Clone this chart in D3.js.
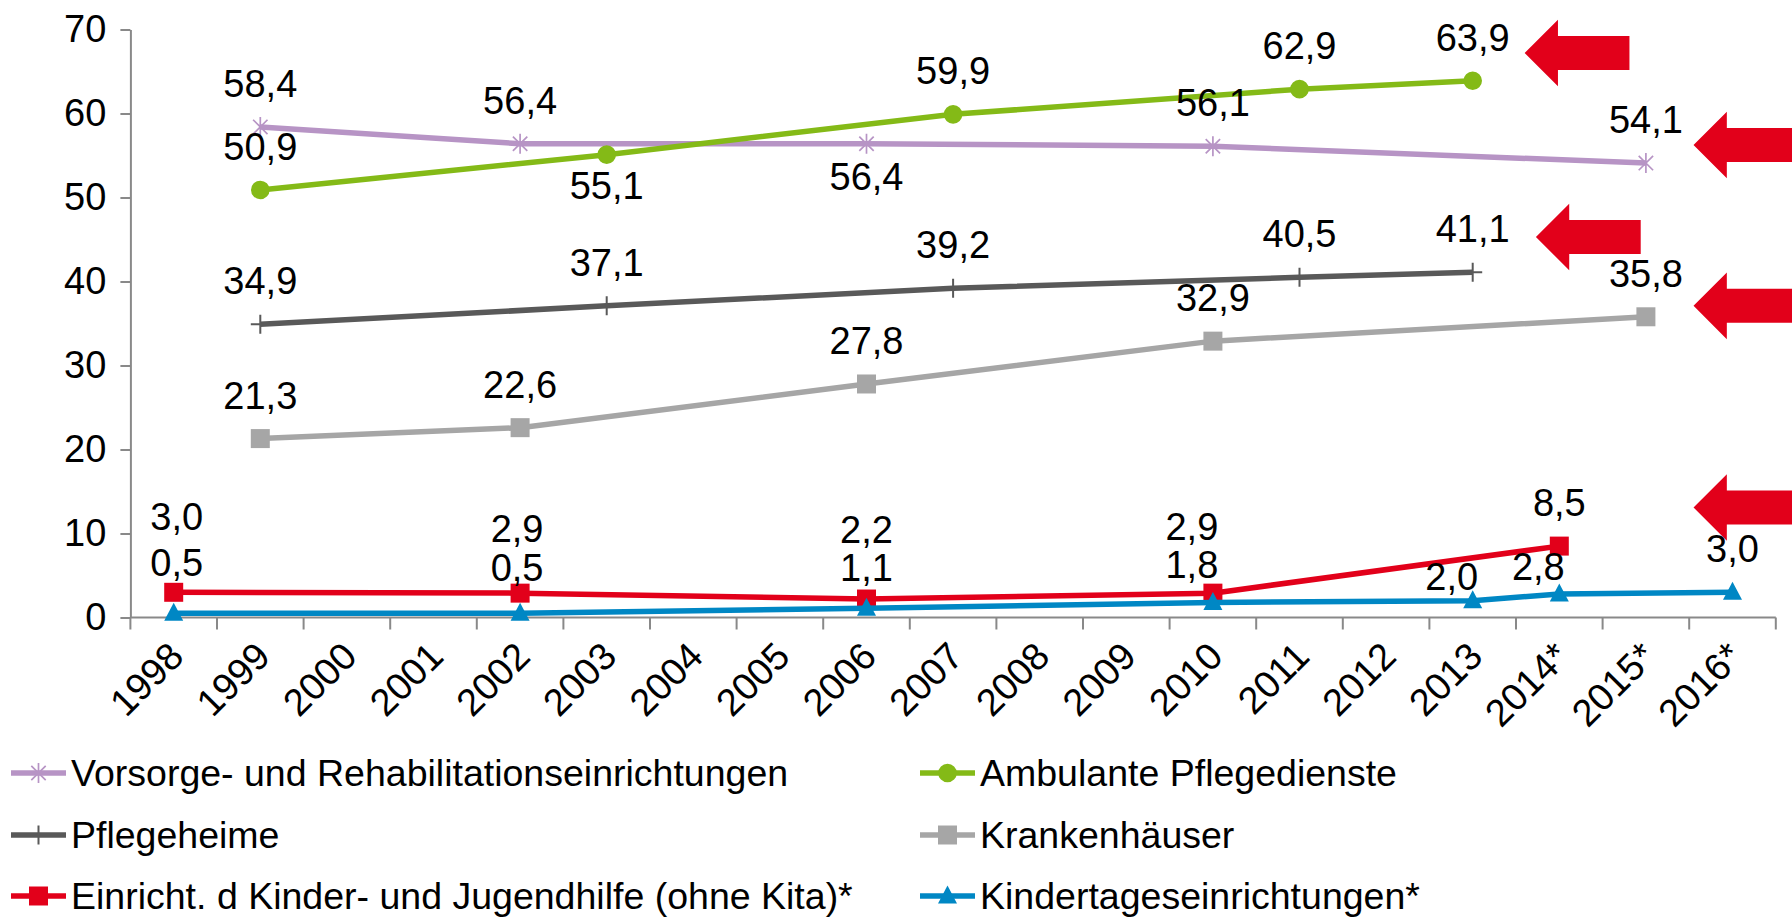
<!DOCTYPE html>
<html>
  <head>
    <meta charset="utf-8">
    <script src="https://cdn.jsdelivr.net/npm/d3@7"></script>
    <style>
      body { margin: 0; background: #fff; }
      text { font-family: "Liberation Sans", Arial, sans-serif; fill: #000; }
    </style>
  </head>
  <body>
    <div id="chart"></div>
    <script type="text/javascript">
      var width = 1792,
          height = 918;

      // categories on the x axis
      var categories = ["1998", "1999", "2000", "2001", "2002", "2003", "2004", "2005", "2006", "2007",
                        "2008", "2009", "2010", "2011", "2012", "2013", "2014*", "2015*", "2016*"];
      var yTicks = [0, 10, 20, 30, 40, 50, 60, 70];

      // series values (null = no survey that year)
      var vorsorge    = [null, 58.4, null, null, 56.4, null, null, null, 56.4, null, null, null, 56.1, null, null, null, null, 54.1, null];
      var ambulant    = [null, 50.9, null, null, null, 55.1, null, null, null, 59.9, null, null, null, 62.9, null, 63.9, null, null, null];
      var pflegeheime = [null, 34.9, null, null, null, 37.1, null, null, null, 39.2, null, null, null, 40.5, null, 41.1, null, null, null];
      var kranken     = [null, 21.3, null, null, 22.6, null, null, null, 27.8, null, null, null, 32.9, null, null, null, null, 35.8, null];
      var jugendhilfe = [3.0, null, null, null, 2.9, null, null, null, 2.2, null, null, null, 2.9, null, null, null, 8.5, null, null];
      var kitas       = [0.5, null, null, null, 0.5, null, null, null, 1.1, null, null, null, 1.8, null, null, 2.0, 2.8, null, 3.0];

      var seriesNames = ["Vorsorge- und Rehabilitationseinrichtungen", "Ambulante Pflegedienste", "Pflegeheime",
                         "Krankenhäuser", "Einricht. d Kinder- und Jugendhilfe (ohne Kita)*", "Kindertageseinrichtungen*"];

      // arrows: tip / tail in category index units, y in value units
      var arrowTip  = [15.6, 17.55, 15.73, 17.55, 17.55];
      var arrowTail = [16.81, 19.6, 16.94, 19.6, 19.6];
      var arrowY    = [67.2, 56.25, 45.3, 37.1, 13.1];

      var series = [
        { name: seriesNames[0], values: vorsorge,    color: "#b794c5", marker: "star" },
        { name: seriesNames[1], values: ambulant,    color: "#84ba17", marker: "circle" },
        { name: seriesNames[2], values: pflegeheime, color: "#595959", marker: "plus" },
        { name: seriesNames[3], values: kranken,     color: "#a6a6a6", marker: "square" },
        { name: seriesNames[4], values: jugendhilfe, color: "#e2001a", marker: "square" },
        { name: seriesNames[5], values: kitas,       color: "#0087c4", marker: "triangle" }
      ];

      // label placement tweaks [dx, dy of baseline relative to point]
      var labelShift = {
        "0|2006": [0, 46],
        "1|2003": [0, 44],
        "4|1998": [3, -62], "4|2002": [-3, -51], "4|2006": [0, -56], "4|2010": [-21, -53],
        "5|1998": [3, -37], "5|2002": [-3, -32], "5|2006": [0, -27], "5|2010": [-21, -24],
        "5|2013": [-21, -11], "5|2014*": [-21, -14]
      };

      var fmt = d3.formatLocale({ decimal: ",", thousands: ".", grouping: [3], currency: ["", ""] }).format(".1f");

      var svg = d3.select("#chart").append("svg")
          .attr("width", width)
          .attr("height", height);

      var x = d3.scaleBand()
          .domain(categories)
          .range([130.4, 1775.8]);
      var bw = x.bandwidth();
      var cx = function(c) { return x(c) + bw / 2; };
      var xIdx = d3.scaleLinear()
          .domain([0, categories.length - 1])
          .range([cx(categories[0]), cx(categories[categories.length - 1])]);

      var y = d3.scaleLinear()
          .domain([0, 70])
          .range([617.5, 29.5]);

      // y axis
      var yAxis = svg.append("g")
          .attr("transform", "translate(130.4,0)")
          .call(d3.axisLeft(y).tickValues(yTicks).tickSize(10).tickPadding(14).tickSizeOuter(0));
      yAxis.selectAll("text").style("font-size", "38px").style("font-family", "Liberation Sans, Arial, sans-serif").attr("fill", "#000");

      // x axis with ticks on band boundaries
      var xAxis = svg.append("g")
          .attr("transform", "translate(0,617.5)");
      xAxis.append("line")
          .attr("x1", x.range()[0]).attr("x2", x.range()[1]);
      xAxis.selectAll(".xtick")
          .data(categories.concat(["end"]))
          .enter().append("line")
            .attr("class", "xtick")
            .attr("x1", function(d, i) { return x.range()[0] + i * bw; })
            .attr("x2", function(d, i) { return x.range()[0] + i * bw; })
            .attr("y1", 0).attr("y2", 12);
      xAxis.selectAll(".xlab")
          .data(categories)
          .enter().append("text")
            .attr("class", "xlab")
            .attr("transform", function(d) { return "translate(" + (cx(d) + 12) + ",41) rotate(-45)"; })
            .style("text-anchor", "end")
            .style("font-size", "38px")
            .text(function(d) { return d; });

      svg.selectAll(".domain, .tick line")
          .attr("stroke", "#898989")
          .attr("stroke-width", 2);
      xAxis.selectAll("line").attr("stroke", "#898989").attr("stroke-width", 2);

      // arrows
      var arrow = function(tip, tail, yc) {
        var hl = 33.3, hh = 33.3, sh = 17;
        return "M" + tip + "," + yc +
          "L" + (tip + hl) + "," + (yc - hh) +
          "L" + (tip + hl) + "," + (yc - sh) +
          "L" + tail + "," + (yc - sh) +
          "L" + tail + "," + (yc + sh) +
          "L" + (tip + hl) + "," + (yc + sh) +
          "L" + (tip + hl) + "," + (yc + hh) + "Z";
      };
      svg.selectAll(".arrow")
          .data(arrowY)
          .enter().append("path")
            .attr("class", "arrow")
            .attr("d", function(d, i) { return arrow(xIdx(arrowTip[i]), xIdx(arrowTail[i]), y(d)); })
            .attr("fill", "#e2001a");

      var markerPath = function(type) {
        if (type === "star") {
          var r = 10, a = 7.2;
          return "M0," + (-r) + "V" + r + "M" + (-a) + "," + (-a) + "L" + a + "," + a + "M" + (-a) + "," + a + "L" + a + "," + (-a);
        }
        if (type === "plus") {
          var p = 9.5;
          return "M" + (-p) + ",0H" + p + "M0," + (-p) + "V" + p;
        }
        if (type === "square") return "M-9.5,-9.5H9.5V9.5H-9.5Z";
        if (type === "triangle") return "M0,-10.5L9.5,7.5H-9.5Z";
        return d3.symbol(d3.symbolCircle, Math.PI * 9.3 * 9.3)();
      };
      var isStroked = function(type) { return type === "star" || type === "plus"; };

      var line = d3.line()
          .x(function(d) { return cx(d.cat); })
          .y(function(d) { return y(d.v); });

      series.forEach(function(s, si) {
        var pts = categories.map(function(c, i) { return { cat: c, v: s.values[i] }; })
            .filter(function(d) { return d.v !== null; });

        var g = svg.append("g").attr("class", "series");
        g.append("path")
            .datum(pts)
            .attr("d", line)
            .attr("fill", "none")
            .attr("stroke", s.color)
            .attr("stroke-width", 5.5);

        g.selectAll(".mark")
            .data(pts)
            .enter().append("path")
              .attr("class", "mark")
              .attr("transform", function(d) { return "translate(" + cx(d.cat) + "," + y(d.v) + ")"; })
              .attr("d", markerPath(s.marker))
              .attr("fill", isStroked(s.marker) ? "none" : s.color)
              .attr("stroke", isStroked(s.marker) ? s.color : "none")
              .attr("stroke-width", s.marker === "star" ? 1.7 : 2);
      });

      // data labels on top
      series.forEach(function(s, si) {
        var pts = categories.map(function(c, i) { return { cat: c, v: s.values[i] }; })
            .filter(function(d) { return d.v !== null; });
        svg.append("g").selectAll("text")
            .data(pts)
            .enter().append("text")
              .attr("x", function(d) {
                var sh = labelShift[si + "|" + d.cat];
                return cx(d.cat) + (sh ? sh[0] : 0);
              })
              .attr("y", function(d) {
                var sh = labelShift[si + "|" + d.cat];
                return y(d.v) + (sh ? sh[1] : -30);
              })
              .style("text-anchor", "middle")
              .style("font-size", "38px")
              .text(function(d) { return fmt(d.v); });
      });

      // legend, two columns, three rows
      var legendX = [11, 920], legendY = [773, 835, 896];
      var legend = svg.selectAll(".legend")
          .data(series)
          .enter().append("g")
            .attr("class", "legend")
            .attr("transform", function(d, i) { return "translate(" + legendX[i % 2] + "," + legendY[Math.floor(i / 2)] + ")"; });
      legend.append("line")
          .attr("x1", 0).attr("x2", 55)
          .attr("stroke", function(d) { return d.color; })
          .attr("stroke-width", 5.5);
      legend.append("path")
          .attr("transform", "translate(27.5,0)")
          .attr("d", function(d) { return markerPath(d.marker); })
          .attr("fill", function(d) { return isStroked(d.marker) ? "none" : d.color; })
          .attr("stroke", function(d) { return isStroked(d.marker) ? d.color : "none"; })
          .attr("stroke-width", function(d) { return d.marker === "star" ? 1.7 : 2; });
      legend.append("text")
          .attr("x", 60)
          .attr("dy", "0.34em")
          .style("font-size", "37.5px")
          .text(function(d) { return d.name; });
    </script>
  </body>
</html>
